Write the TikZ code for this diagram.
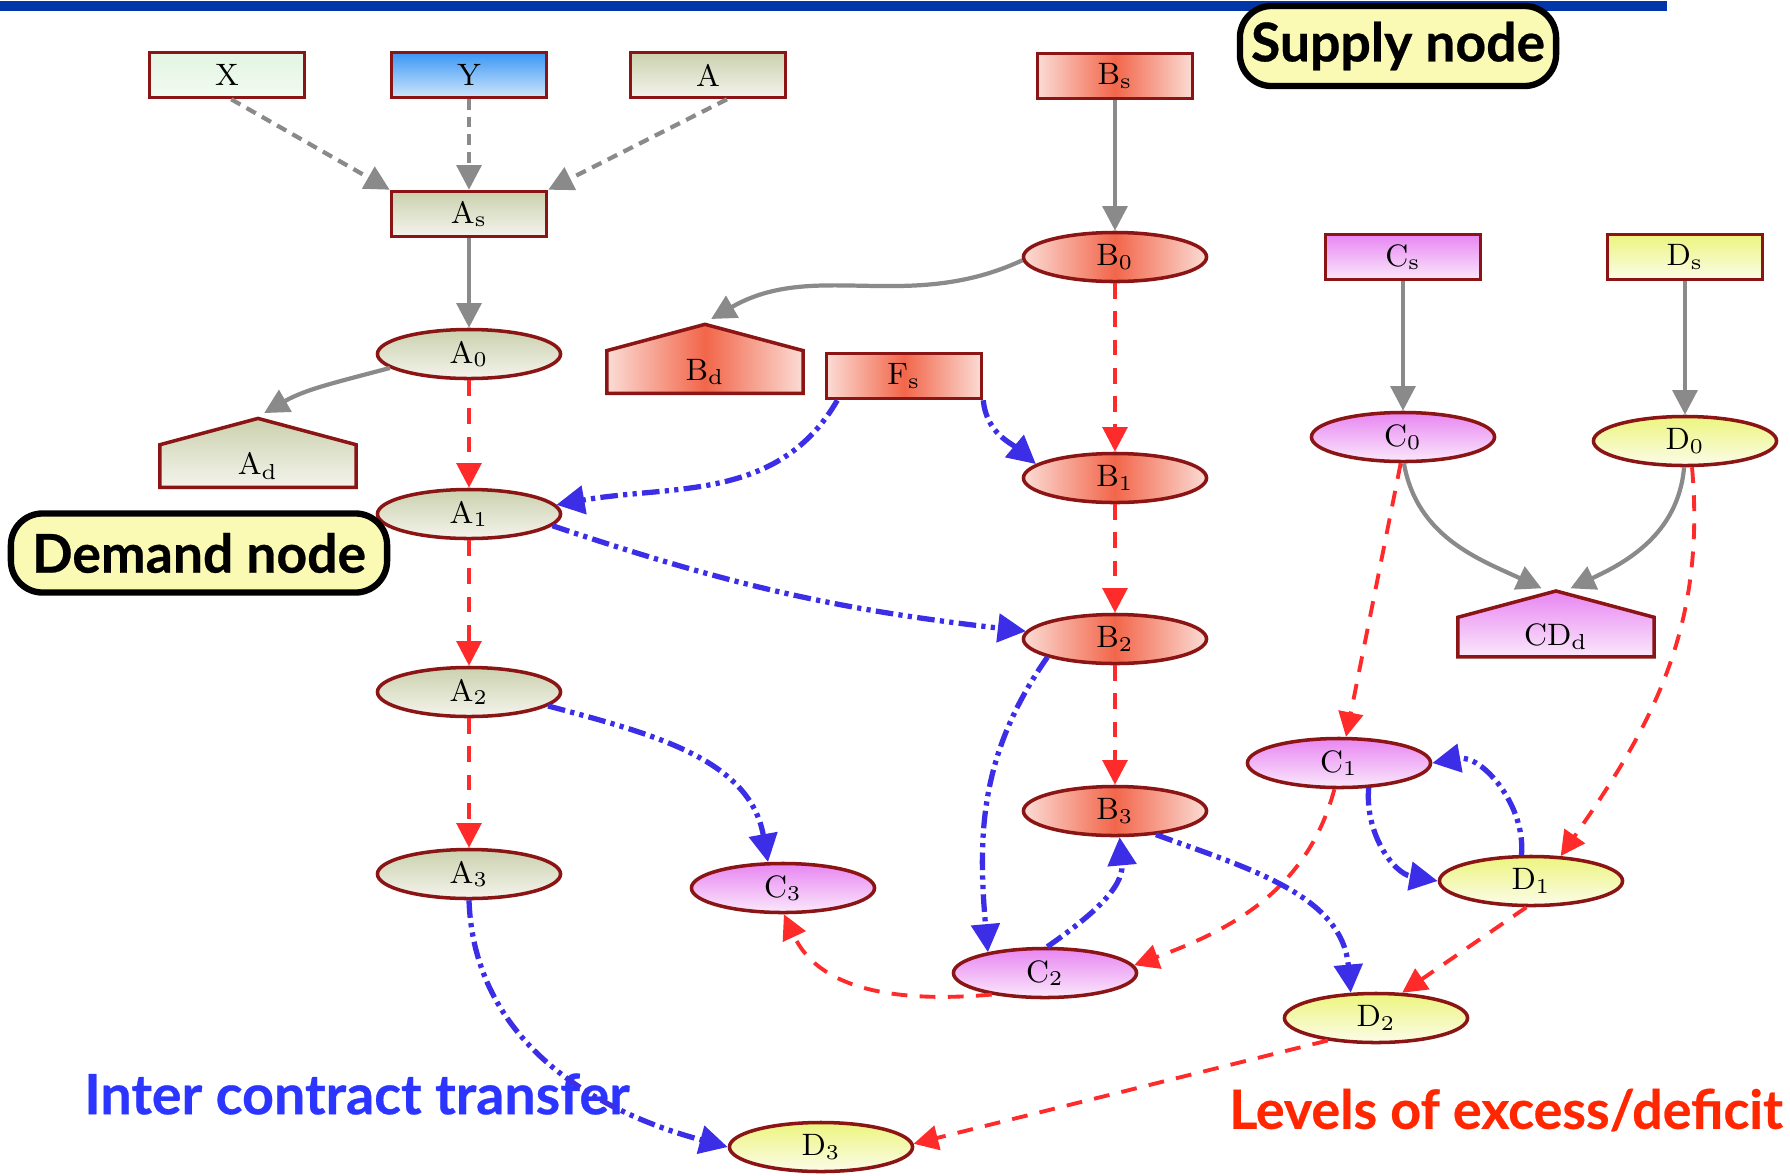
\documentclass[tikz,border=0pt]{standalone}
\usepackage{fontspec}
\newfontfamily\calloutfont{Lato}[BoldFeatures={FakeBold=0.5}]
\usetikzlibrary{arrows.meta,shapes.geometric,shapes.symbols}
\definecolor{frame}{HTML}{8B1414}
\definecolor{atop}{HTML}{CBD1AE}
\definecolor{abot}{HTML}{F4F4EC}
\definecolor{bmid}{HTML}{F2664A}
\definecolor{bedge}{HTML}{FBDCD5}
\definecolor{ctop}{HTML}{E886F2}
\definecolor{cbot}{HTML}{FAE8FB}
\definecolor{dtop}{HTML}{ECF57E}
\definecolor{dbot}{HTML}{FBFCE8}
\definecolor{xtop}{HTML}{E2F5E2}
\definecolor{xbot}{HTML}{F2FBF2}
\definecolor{ytop}{HTML}{3A96F5}
\definecolor{ybot}{HTML}{CFE7FB}
\definecolor{flowgray}{HTML}{8A8A8A}
\definecolor{levelred}{HTML}{FF2A2A}
\definecolor{xferblue}{HTML}{3B2EE6}
\definecolor{notefill}{HTML}{FAFAB4}
\definecolor{barblue}{HTML}{0036A8}
\definecolor{textblue}{HTML}{2B35FF}
\definecolor{textred}{HTML}{FF2600}
\tikzset{
  stockbox/.style={rectangle,draw=frame,line width=1pt,minimum width=1.55cm,minimum height=0.45cm,inner sep=0pt},
  stocklvl/.style={ellipse,draw=frame,line width=1pt,minimum width=1.83cm,minimum height=0.49cm,inner sep=0pt},
  demand/.style={signal,signal to=north,signal from=nowhere,signal pointer angle=150,draw=frame,line width=1pt,minimum width=1.96cm,minimum height=0.48cm,inner sep=0pt},
  afill/.style={top color=atop,bottom color=abot},
  bfill/.style={left color=bedge,right color=bedge,middle color=bmid},
  cfill/.style={top color=ctop,bottom color=cbot},
  dfill/.style={top color=dtop,bottom color=dbot},
  gflow/.style={draw=flowgray,line width=1.2pt,-{Triangle[length=7pt,width=7pt]}},
  gdash/.style={gflow,dash pattern=on 3pt off 2pt},
  rlevel/.style={draw=levelred,line width=1.1pt,dash pattern=on 4.5pt off 3.5pt,-{Triangle[length=7pt,width=7pt]}},
  btrans/.style={draw=xferblue,line width=1.5pt,dash pattern=on 5pt off 1.5pt on 1.2pt off 1.5pt on 1.2pt off 1.5pt,-{Triangle[length=8pt,width=8pt]}},
  callout/.style={draw=black,line width=1.8pt,rounded corners=9pt,fill=notefill,inner sep=0pt,font=\calloutfont\fontsize{15.2}{18}\selectfont\bfseries}
}
\begin{document}
\begin{tikzpicture}[x=0.01cm,y=-0.01cm,every node/.style={font=\fontsize{8.8}{10}\selectfont}]
\useasboundingbox (0,0) rectangle (1790,1175);
% title bar
\fill[barblue] (0,1) rectangle (1667,11);
% inputs and supply boxes
\node[stockbox,top color=xtop,bottom color=xbot] (X) at (227,75) {X};
\node[stockbox,top color=ytop,bottom color=ybot] (Y) at (469,75) {Y};
\node[stockbox,afill] (Anode) at (708,75) {A};
\node[stockbox,bfill] (Bs) at (1115,76) {B$_\mathrm{s}$};
\node[stockbox,afill] (As) at (469,214) {A$_\mathrm{s}$};
\node[stockbox,cfill] (Cs) at (1403,257) {C$_\mathrm{s}$};
\node[stockbox,dfill] (Ds) at (1685,257) {D$_\mathrm{s}$};
\node[stockbox,bfill] (Fs) at (904,376) {F$_\mathrm{s}$};
% levels
\node[stocklvl,afill] (A0) at (469,354) {A$_0$};
\node[stocklvl,afill] (A1) at (469,514) {A$_1$};
\node[stocklvl,afill] (A2) at (469,692) {A$_2$};
\node[stocklvl,afill] (A3) at (469,874) {A$_3$};
\node[stocklvl,bfill] (B0) at (1115,257) {B$_0$};
\node[stocklvl,bfill] (B1) at (1115,478) {B$_1$};
\node[stocklvl,bfill] (B2) at (1115,639) {B$_2$};
\node[stocklvl,bfill] (B3) at (1115,811) {B$_3$};
\node[stocklvl,cfill] (C0) at (1403,437) {C$_0$};
\node[stocklvl,cfill] (C1) at (1339,763) {C$_1$};
\node[stocklvl,cfill] (C2) at (1045,973) {C$_2$};
\node[stocklvl,cfill] (C3) at (783,888) {C$_3$};
\node[stocklvl,dfill] (D0) at (1685,441) {D$_0$};
\node[stocklvl,dfill] (D1) at (1531,881) {D$_1$};
\node[stocklvl,dfill] (D2) at (1376,1018) {D$_2$};
\node[stocklvl,dfill] (D3) at (821,1147) {D$_3$};
% demand nodes
\node[demand,afill] (Ad) at (258,466) {A$_\mathrm{d}$};
\node[demand,bfill] (Bd) at (705,372) {B$_\mathrm{d}$};
\node[demand,cfill] (CDd) at (1556,637) {CD$_\mathrm{d}$};
% callouts
\node[callout,minimum width=3.16cm,minimum height=0.8cm] (supplynote) at (1398,46) {Supply node};
\node[callout,minimum width=3.76cm,minimum height=0.79cm] (demandnote) at (199,553) {Demand node};
\node[font=\calloutfont\fontsize{15.8}{18}\selectfont\bfseries,text=textblue] (xferlabel) at (357,1094) {Inter contract transfer};
\node[font=\calloutfont\fontsize{15.3}{18}\selectfont\bfseries,text=textred] (levellabel) at (1506,1110) {Levels of excess/deficit};
% gray flows
\draw[gdash] (X.-80) -- (As.north west);
\draw[gdash] (Y) -- (As);
\draw[gdash] (Anode.-52) -- (As.north east);
\draw[gflow] (As) -- (A0);
\draw[gflow,shorten >=2pt] (A0.190) to[out=195,in=30] (Ad.north);
\draw[gflow] (Bs) -- (B0);
\draw[gflow,shorten >=2pt] (B0.182) to[out=205,in=30] (Bd.north);
\draw[gflow] (Cs) -- (C0);
\draw[gflow] (Ds) -- (D0);
\draw[gflow,shorten >=2pt] (C0.-88) to[out=-80,in=155] (CDd.100);
\draw[gflow,shorten >=2pt] (D0.-92) to[out=-95,in=25] (CDd.80);
% red levels
\draw[rlevel] (A0) -- (A1);
\draw[rlevel] (A1) -- (A2);
\draw[rlevel] (A2) -- (A3);
\draw[rlevel] (B0) -- (B1);
\draw[rlevel] (B1) -- (B2);
\draw[rlevel] (B2) -- (B3);
\draw[rlevel] (C0.-95) -- (C1.75);
\draw[rlevel] (D0.-75) to[out=-85,in=55] (D1.40);
\draw[rlevel] (C1.-100) to[out=-105,in=20] (C2.5);
\draw[rlevel] (C2.202) to[out=185,in=-65] (C3.-88);
\draw[rlevel] (D1.260) -- (D2.44);
\draw[rlevel] (D2.205) -- (D3.2);
% blue transfers
\draw[btrans] (Fs.200) to[out=240,in=10] (A1.6);
\draw[btrans] (Fs.-17) to[out=-85,in=140] (B1.170);
\draw[btrans] (A1.-8) to[bend right=6] (B2.175);
\draw[btrans] (A2.-10) to[out=-15,in=100] (C3.120);
\draw[btrans] (A3.south) to[out=-88,in=165] (D3.west);
\draw[btrans] (B2.195) to[out=235,in=95] (C2.160);
\draw[btrans] (C2.85) to[out=35,in=-85] (B3.-80);
\draw[btrans] (B3.-30) to[out=-20,in=95] (D2.135);
\draw[btrans] (C1.-40) to[out=-95,in=170] (D1.west);
\draw[btrans] (D1.110) to[out=85,in=10] (C1.east);
\end{tikzpicture}
\end{document}
